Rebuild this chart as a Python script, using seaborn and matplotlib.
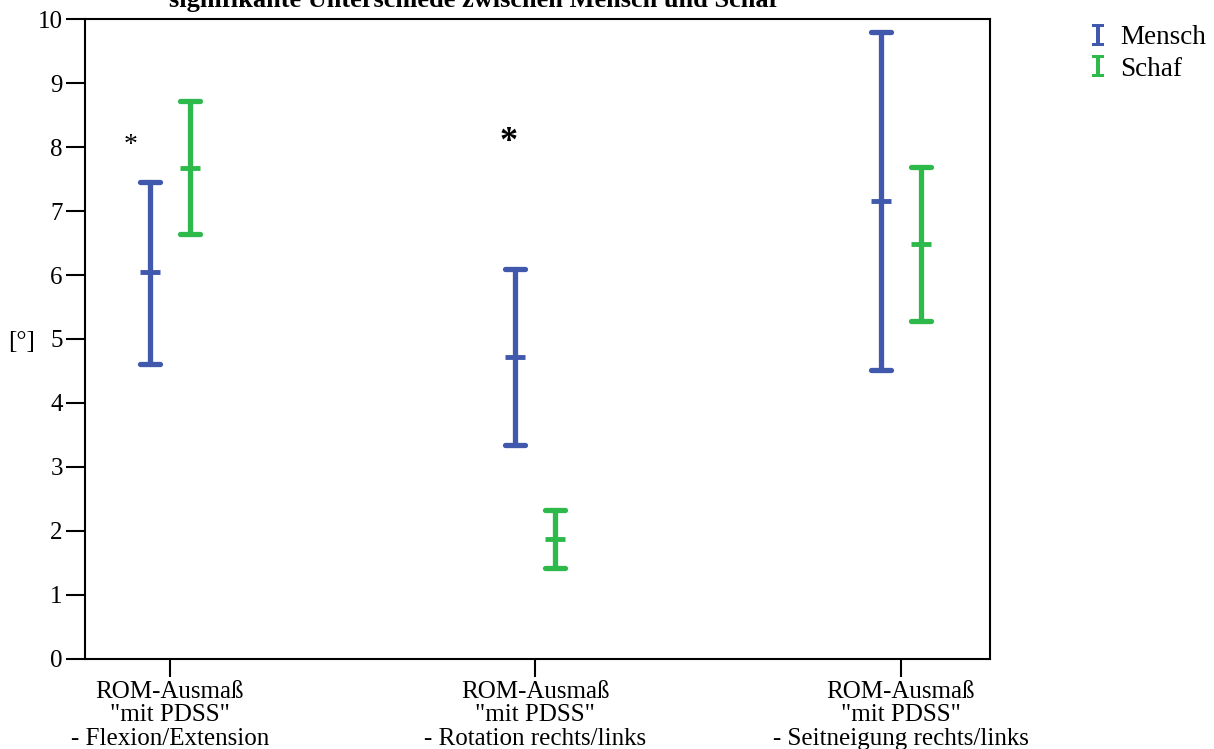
import matplotlib
matplotlib.use("Agg")
import matplotlib.pyplot as plt
import seaborn as sns
import pandas as pd
from matplotlib.lines import Line2D
from matplotlib.path import Path

# values: lower bound, mean, upper bound per group
categories = ["Flexion/Extension", "Rotation rechts/links", "Seitneigung rechts/links"]
tick_labels = ['ROM-Ausmaß\n"mit PDSS"\n- Flexion/Extension',
               'ROM-Ausmaß\n"mit PDSS"\n- Rotation rechts/links',
               'ROM-Ausmaß\n"mit PDSS"\n- Seitneigung rechts/links']
groups = ["Mensch", "Schaf"]
mensch_low = [4.61, 3.34, 4.52]
mensch_mean = [6.05, 4.72, 7.16]
mensch_high = [7.45, 6.09, 9.80]
schaf_low = [6.64, 1.42, 5.28]
schaf_mean = [7.67, 1.875, 6.48]
schaf_high = [8.72, 2.33, 7.69]
# significance stars: x (category units), y, font size, weight
stars = [(-0.108, 8.03, 20, "normal"), (0.926, 8.07, 26, "bold")]
colors = {"Mensch": "#4059AD", "Schaf": "#2EBA4A"}

sns.set_style("white")
plt.rcParams["font.family"] = ["Liberation Serif", "DejaVu Serif"]
plt.rcParams["text.color"] = "black"

rows = []
for g, lo, mu, hi in [("Mensch", mensch_low, mensch_mean, mensch_high),
                      ("Schaf", schaf_low, schaf_mean, schaf_high)]:
    for c, a, b, d in zip(categories, lo, mu, hi):
        for v in (a, b, d):
            rows.append({"cat": c, "group": g, "val": v})
df = pd.DataFrame(rows)

fig = plt.figure(figsize=(12.14, 7.49), dpi=100)
ax = fig.add_axes([0.070, 0.1202, 0.7455, 0.8544])

sns.pointplot(data=df, x="cat", y="val", hue="group", order=categories,
              hue_order=groups, palette=colors, estimator="median",
              errorbar=lambda x: (min(x), max(x)), dodge=0.11,
              linestyle="none", marker="_", markersize=15, markeredgewidth=3.5,
              capsize=0.055, err_kws={"linewidth": 3.8}, legend=False, ax=ax)

for x, y, s, w in stars:
    ax.text(x, y, "*", ha="center", va="center", fontsize=s, fontweight=w)

ax.set_xlim(-0.232, 2.244)
ax.set_ylim(0, 10)
ax.set_yticks(range(0, 11))
ax.set_xticks(range(3))
ax.set_xticklabels(tick_labels, fontsize=18, linespacing=1.07)
ax.tick_params(axis="both", direction="out", length=14, width=1.5,
               labelsize=18, pad=2, left=True, bottom=True, colors="black")
ax.tick_params(axis="x", length=13, pad=3)
for sp in ax.spines.values():
    sp.set_linewidth(1.5)
    sp.set_color("black")
ax.set_xlabel("")
ax.set_ylabel("")
fig.text(22 / 1214, 1 - 342 / 749, "[°]", ha="center", va="center", fontsize=18)

fig.text(0.39, 0.9905, "signifikante Unterschiede zwischen Mensch und Schaf",
         ha="center", va="baseline", fontsize=19, fontweight="bold")

# I-beam legend symbol
ibeam = Path([(-0.55, 1), (0.55, 1), (0.55, 0.72), (0.2, 0.72), (0.2, -0.72),
              (0.55, -0.72), (0.55, -1), (-0.55, -1), (-0.55, -0.72), (-0.2, -0.72),
              (-0.2, 0.72), (-0.55, 0.72), (-0.55, 1)])
handles = [Line2D([0], [0], color=colors[g], lw=0, marker=ibeam,
                  markersize=16, markeredgewidth=0) for g in groups]
fig.legend(handles, groups, loc="upper left", bbox_to_anchor=(0.889, 0.981),
           frameon=False, fontsize=19.5, handlelength=0.6, handletextpad=0.5,
           labelspacing=0.25, borderaxespad=0)

fig.savefig("out.png", dpi=100)
